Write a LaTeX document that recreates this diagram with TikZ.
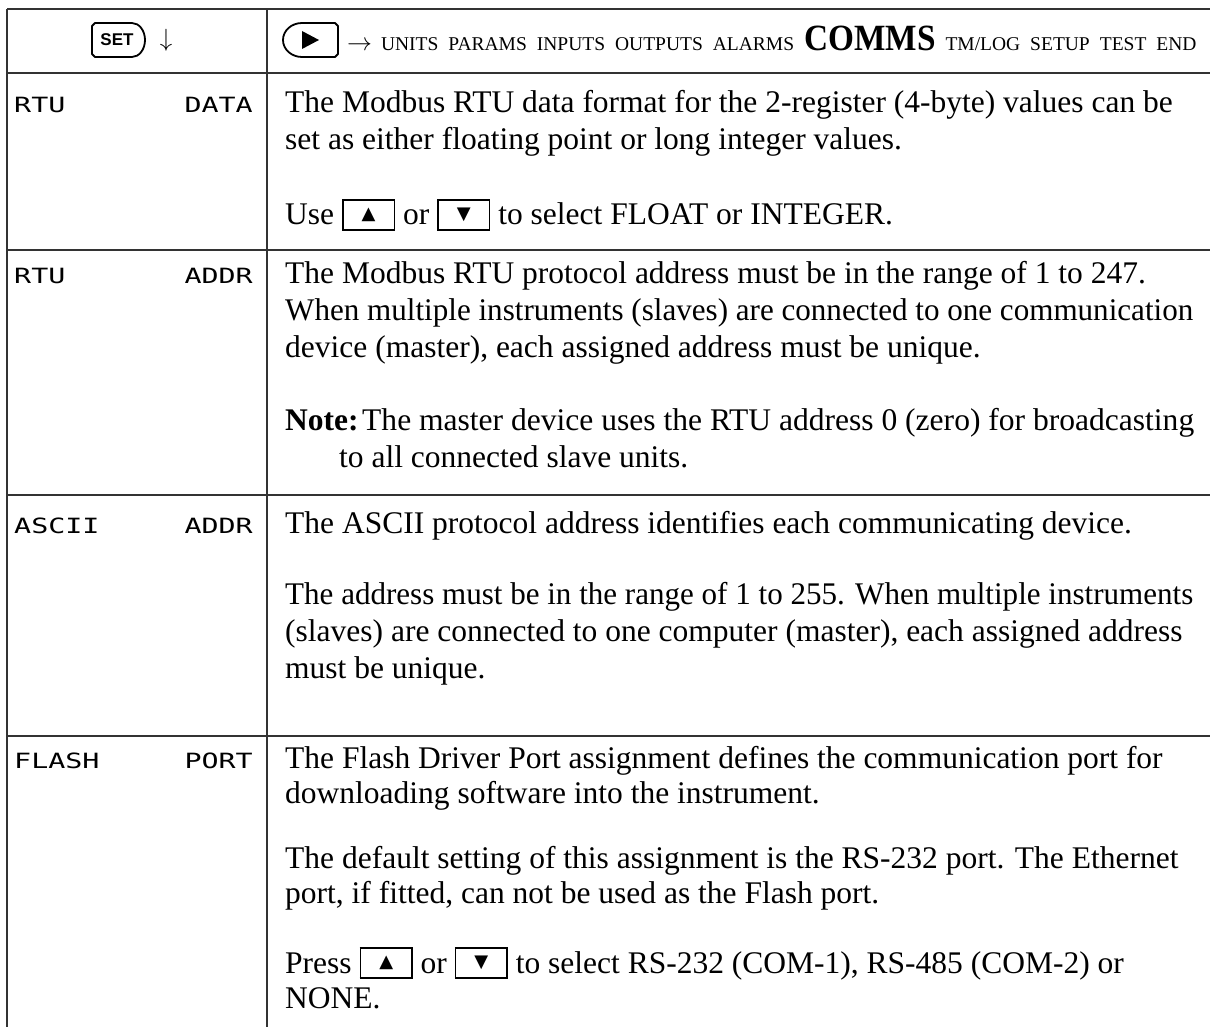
\documentclass[tikz,border=0pt]{standalone}
\usepackage{graphicx}
\usepackage{fontspec}
\setmainfont{Liberation Serif}
\newfontfamily\lcdfont{DejaVu Sans Mono}
\newfontfamily\keyfont{Liberation Sans}
\newfontfamily\symfont{DejaVu Sans}
\newcommand\kbox[1]{\raisebox{-4pt}{\setlength{\fboxrule}{1.6pt}\setlength{\fboxsep}{0pt}\fbox{\parbox[b][28pt][c]{50pt}{\centering\symfont\fontsize{18}{18}\selectfont #1}}}}
\newcommand\lcdtxt[1]{\scalebox{1.35}[1]{#1}}
\newcommand\fitline[1]{\resizebox{908pt}{\height}{#1}}
\begin{document}
\begin{tikzpicture}[x=1pt,y=-1pt]
\tikzset{
 rule/.style={draw=black!80, line width=1.6pt},
 keyline/.style={draw=black, line width=1.8pt},
 body/.style={anchor=base west, inner sep=0pt, align=left, font=\fontsize{31.5}{37}\selectfont},
 bodyb/.style={body, font=\fontsize{31.5}{35}\selectfont},
 lcdl/.style={anchor=base west, inner sep=0pt, font=\lcdfont\fontsize{21}{21}\selectfont},
 lcdr/.style={anchor=base east, inner sep=0pt, font=\lcdfont\fontsize{21}{21}\selectfont},
}
\useasboundingbox (0,0) rectangle (1210,1027);
\fill[white] (0,0) rectangle (1210,1027);
% table rules
\draw[rule] (7,9) -- (1210,9);
\draw[rule] (7,73) -- (1210,73);
\draw[rule] (7,250) -- (1210,250);
\draw[rule] (7,495) -- (1210,495);
\draw[rule] (7,736) -- (1210,736);
\draw[rule] (7,9) -- (7,1027);
\draw[rule] (267,9) -- (267,1027);
% SET key
\draw[keyline, line join=round] (132,23) -- (95,23) -- (92,26) -- (92,54) -- (95,57) -- (132,57)
  arc[start angle=90, end angle=-90, x radius=13, y radius=17];
\node[inner sep=0pt, font=\keyfont\bfseries\fontsize{17}{17}\selectfont] (setkey) at (117,40) {SET};
\node[inner sep=0pt, font=\fontsize{28}{28}\selectfont] (downarr) at (166,40) {$\downarrow$};
% play key
\draw[keyline, line join=round] (302,57) -- (335,57) -- (338,54) -- (338,26) -- (335,23) -- (302,23)
  arc[start angle=-90, end angle=-270, x radius=19, y radius=17];
\fill (302,31) -- (302,49) -- (319,40) -- cycle;
% header menu
\node[anchor=base west, inner sep=0pt] (menu) at (347,51) {\fontsize{26}{26}\selectfont$\rightarrow$\hspace{9pt}\fontsize{19.5}{19.5}\selectfont UNITS\hspace{10pt}PARAMS\hspace{10pt}INPUTS\hspace{10pt}OUTPUTS\hspace{10pt}ALARMS\hspace{10pt}{\fontsize{37}{37}\selectfont\bfseries\scalebox{0.9}[1]{COMMS}}\hspace{10pt}TM/LOG\hspace{10pt}SETUP\hspace{10pt}TEST\hspace{10pt}END};
% LCD labels
\node[lcdl] (l1a) at (14,113) {\lcdtxt{RTU}};
\node[lcdr] (l1b) at (253,113) {\lcdtxt{DATA}};
\node[lcdl] (l2a) at (14,283) {\lcdtxt{RTU}};
\node[lcdr] (l2b) at (253,283) {\lcdtxt{ADDR}};
\node[lcdl] (l3a) at (14,533) {\lcdtxt{ASCII}};
\node[lcdr] (l3b) at (253,533) {\lcdtxt{ADDR}};
\node[lcdl] (l4a) at (14,768) {\lcdtxt{FLASH}};
\node[lcdr] (l4b) at (253,768) {\lcdtxt{PORT}};
% row 1 (base anchor = last line)
\node[body] (r1a) at (285,150) {The Modbus RTU data format for the 2-register (4-byte) values can be\\set as either floating point or long integer values.};
\node[body] (r1b) at (285,225) {Use \kbox{▲} or \kbox{▼} to select FLOAT or INTEGER.};
% row 2
\node[body] (r2a) at (285,357) {The Modbus RTU protocol address must be in the range of 1 to 247.\\\fitline{When multiple instruments (slaves) are connected to one communication}\\device (master), each assigned address must be unique.};
\node[body] (r2b) at (285,430) {\textbf{Note:}};
\node[body] (r2c) at (362,467) {\resizebox{832pt}{\height}{The master device uses the RTU address 0 (zero) for broadcasting}\\\hspace*{-23pt}to all connected slave units.};
% row 3
\node[body] (r3a) at (285,533) {The ASCII protocol address identifies each communicating device.};
\node[body] (r3b) at (285,678) {\fitline{The address must be in the range of 1 to 255. When multiple instruments}\\(slaves) are connected to one computer (master), each assigned address\\must be unique.};
% row 4
\node[bodyb] (r4a) at (285,803) {The Flash Driver Port assignment defines the communication port for\\downloading software into the instrument.};
\node[bodyb] (r4b) at (285,903) {The default setting of this assignment is the RS-232 port. The Ethernet\\port, if fitted, can not be used as the Flash port.};
\node[bodyb] (r4c) at (285,1008) {Press \kbox{▲} or \kbox{▼} to select RS-232 (COM-1), RS-485 (COM-2) or\\NONE.};
\end{tikzpicture}
\end{document}
